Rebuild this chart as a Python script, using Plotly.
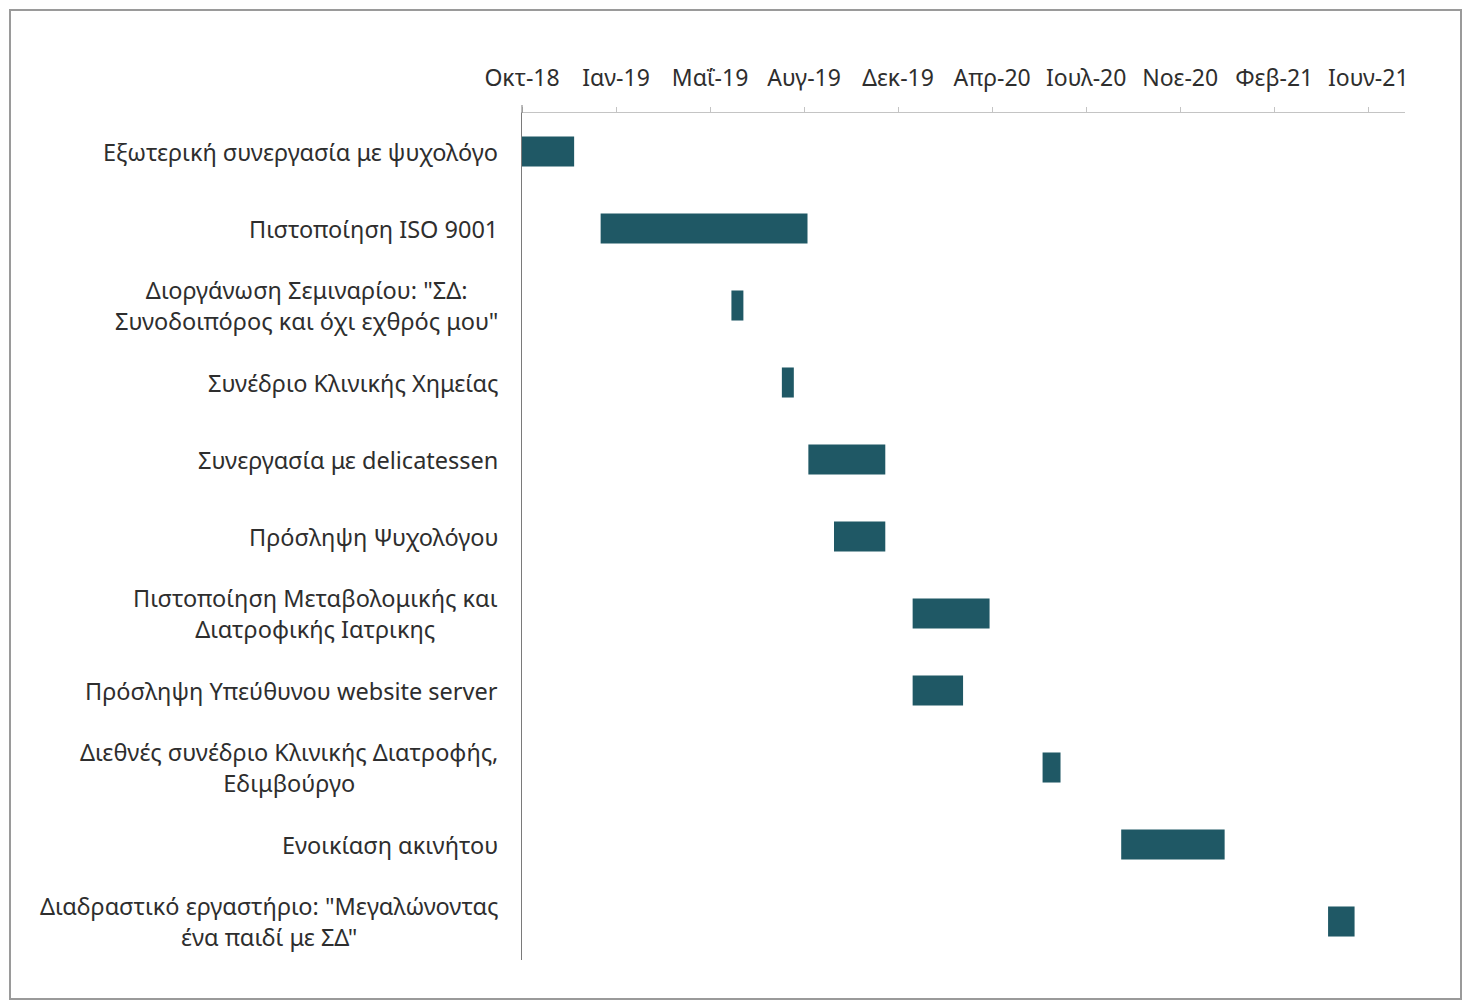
import plotly.graph_objects as go
from datetime import date

tasks = [
    "Εξωτερική συνεργασία με ψυχολόγο",
    "Πιστοποίηση ISO 9001",
    "Διοργάνωση Σεμιναρίου: \"ΣΔ:<br>Συνοδοιπόρος και όχι εχθρός μου\"",
    "Συνέδριο Κλινικής Χημείας",
    "Συνεργασία με delicatessen",
    "Πρόσληψη Ψυχολόγου",
    "Πιστοποίηση Μεταβολομικής και<br>Διατροφικής Ιατρικης",
    "Πρόσληψη Υπεύθυνου website server",
    "Διεθνές συνέδριο Κλινικής Διατροφής,<br>Εδιμβούργο",
    "Ενοικίαση ακινήτου",
    "Διαδραστικό εργαστήριο: \"Μεγαλώνοντας<br>ένα παιδί με ΣΔ\"",
]
start_dates = [
    "2018-10-01", "2019-01-01", "2019-06-03", "2019-08-01", "2019-09-01",
    "2019-10-01", "2020-01-01", "2020-01-01", "2020-06-01", "2020-09-01",
    "2021-05-01",
]
end_dates = [
    "2018-12-01", "2019-08-31", "2019-06-17", "2019-08-15", "2019-11-30",
    "2019-11-30", "2020-03-31", "2020-02-29", "2020-06-22", "2020-12-31",
    "2021-06-01",
]
tick_dates = [
    "2018-10-01", "2019-01-19", "2019-05-09", "2019-08-27", "2019-12-15",
    "2020-04-03", "2020-07-22", "2020-11-09", "2021-02-27", "2021-06-17",
]
tick_labels = [
    "Οκτ-18", "Ιαν-19", "Μαΐ-19", "Αυγ-19", "Δεκ-19",
    "Απρ-20", "Ιουλ-20", "Νοε-20", "Φεβ-21", "Ιουν-21",
]
x_range = ["2018-10-01", "2021-07-30"]

def ms(a, b):
    d = date.fromisoformat(b) - date.fromisoformat(a)
    return d.days * 86400000

durations = [ms(s, e) for s, e in zip(start_dates, end_dates)]

FONT = "Noto Sans"
BAR = "#1F5865"
TXT = "#2e2e2e"

fig = go.Figure()
fig.add_trace(go.Bar(
    y=tasks, x=durations, base=start_dates, orientation="h",
    marker=dict(color=BAR, line=dict(width=0)), width=0.39,
    showlegend=False, hoverinfo="skip",
))

annotations = []
for t in tasks:
    annotations.append(dict(
        x=0, xref="paper", y=t, yref="y", text=t, showarrow=False,
        xanchor="right", yanchor="middle", align="center", xshift=-22,
        font=dict(family=FONT, size=23.5, color=TXT),
    ))

W, H = 1464, 1003
L, R, T, B = 522, 59, 113, 43
pw, ph = W - L - R, H - T - B

def px_x(p):
    return (p - L) / pw

def px_y(p):
    return (H - B - p) / ph

fig.add_shape(type="rect", xref="paper", yref="paper",
              x0=px_x(10), x1=px_x(1461), y0=px_y(999), y1=px_y(10),
              line=dict(color="#9a9a9a", width=2), fillcolor="rgba(0,0,0,0)", layer="below")
fig.add_shape(type="line", xref="paper", yref="paper",
              x0=0, x1=0, y0=1, y1=px_y(105),
              line=dict(color="#7a7a7a", width=1))

fig.update_layout(
    width=W, height=H,
    margin=dict(l=L, r=R, t=T, b=B, pad=0),
    paper_bgcolor="white", plot_bgcolor="white",
    annotations=annotations,
    xaxis=dict(
        type="date", side="top", range=x_range,
        tickmode="array", tickvals=tick_dates, ticktext=tick_labels,
        showgrid=False, zeroline=False,
        showline=True, linecolor="#c4c4c4", linewidth=1,
        ticks="outside", ticklen=5, tickcolor="#c4c4c4",
        tickfont=dict(family=FONT, size=23, color=TXT),
        ticklabelstandoff=12,
    ),
    yaxis=dict(
        type="category", autorange="reversed",
        showticklabels=False, showgrid=False, zeroline=False,
        showline=True, linecolor="#7a7a7a", linewidth=1,
        ticks="",
    ),
)

fig.write_html("out.html", config={"displayModeBar": False},
               post_script="document.body.style.margin='0';document.body.style.overflow='hidden';")
